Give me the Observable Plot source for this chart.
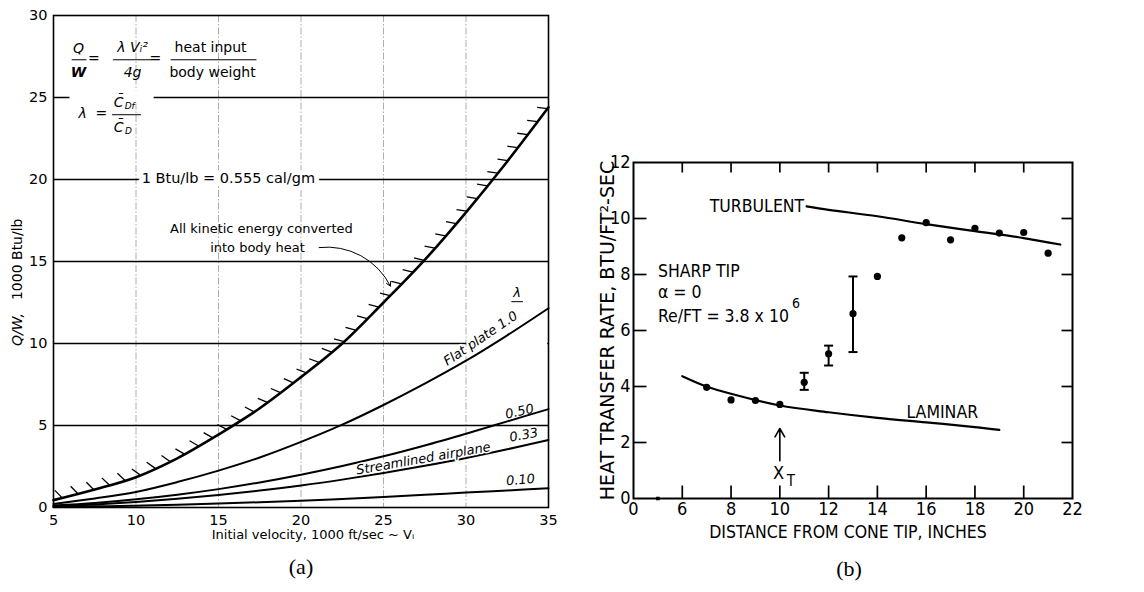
<!DOCTYPE html>
<html><head><meta charset="utf-8">
<script src="https://cdn.jsdelivr.net/npm/d3@7"></script>
<script src="https://cdn.jsdelivr.net/npm/@observablehq/plot@0.6"></script>
<style>
html,body{margin:0;padding:0;background:#fff;}
#wrap{position:relative;width:1144px;height:592px;overflow:hidden;background:#fff;}
#a{position:absolute;left:0;top:0;}
#b{position:absolute;left:560px;top:0;}
</style></head><body><div id="wrap"><div id="a"></div><div id="b"></div></div>
<script>
// ---------- Panel (a) data ----------
const velocity      = [5, 7.5, 10, 12.5, 15, 17.5, 20, 22.5, 25, 27.5, 30, 32.5, 35];
const kineticLimit  = [0.45, 1.1, 1.85, 3.0, 4.45, 6.05, 7.95, 10.0, 12.5, 15.1, 18.0, 21.1, 24.4];
const flatPlate     = [0.22, 0.55, 0.95, 1.55, 2.25, 3.05, 4.0, 5.05, 6.25, 7.55, 8.95, 10.5, 12.15];
const lambda050     = [0.12, 0.28, 0.5, 0.78, 1.12, 1.53, 2.0, 2.53, 3.12, 3.78, 4.5, 5.25, 6.0];
const lambda033     = [0.08, 0.19, 0.34, 0.53, 0.76, 1.03, 1.34, 1.7, 2.1, 2.54, 3.02, 3.55, 4.12];
const lambda010     = [0.03, 0.07, 0.11, 0.17, 0.24, 0.32, 0.41, 0.52, 0.64, 0.77, 0.91, 1.04, 1.17];
const velocityTicks = [5, 10, 15, 20, 25, 30, 35];
const qwTicks       = [0, 5, 10, 15, 20, 25, 30];
const qwGrid        = [5, 10, 15, 20, 25];
const velocityGrid  = [10, 15, 20, 25, 30];

// ---------- Panel (b) data ----------
const distance   = [7, 8, 9, 10, 11, 12, 13, 14, 15, 16, 17, 18, 19, 20, 21];
const heatRate   = [3.97, 3.52, 3.5, 3.36, 4.15, 5.17, 6.6, 7.93, 9.31, 9.85, 9.24, 9.65, 9.48, 9.5, 8.76];
const errDistance = [11, 12, 13];
const errLow      = [3.88, 4.75, 5.23];
const errHigh     = [4.49, 5.46, 7.93];
const turbX = [11.1, 12, 14, 16, 18, 20, 21.5];
const turbY = [10.43, 10.31, 10.08, 9.8, 9.55, 9.3, 9.07];
const lamX  = [6, 7, 8, 10, 12, 14, 16, 18, 19];
const lamY  = [4.37, 4.0, 3.74, 3.32, 3.08, 2.88, 2.72, 2.55, 2.45];
const distTicks = [4, 6, 8, 10, 12, 14, 16, 18, 20, 22];
const distMinor = [6, 8, 10, 12, 14, 16, 18, 20];
const rateTicks = [0, 2, 4, 6, 8, 10, 12];
const rateMinor = [2, 4, 6, 8, 10];

const SANS = "'DejaVu Sans', sans-serif";
const COND = "'DejaVu Sans Condensed', 'DejaVu Sans', sans-serif";
const SERIF = "'Liberation Serif', 'DejaVu Serif', serif";

// ---------- Panel (a) ----------
const A = {w: 560, h: 592, ml: 53, mr: 12, mt: 15, mb: 85};
const seriesA = [
  ["kinetic", kineticLimit], ["1.0", flatPlate], ["0.50", lambda050], ["0.33", lambda033], ["0.10", lambda010]
];
const rowsA = seriesA.flatMap(([k, arr]) => velocity.map((v, i) => ({v, q: arr[i], k})));

// hatch ticks along the kinetic-energy limit curve (derived from the curve itself)
const kx = (A.w - A.ml - A.mr) / 30, ky = (A.h - A.mt - A.mb) / 30;
const hatches = [];
{
  const pts = velocity.map((v, i) => [v * kx, -kineticLimit[i] * ky]);
  const spacing = 16.3, len = 10.5, th = 30 * Math.PI / 180;
  let carry = 9;
  for (let i = 0; i < pts.length - 1; i++) {
    const [x0, y0] = pts[i], [x1, y1] = pts[i + 1];
    const L = Math.hypot(x1 - x0, y1 - y0);
    const tx = (x1 - x0) / L, ty = (y1 - y0) / L;
    let s = carry;
    while (s <= L) {
      const px = x0 + tx * s, py = y0 + ty * s;
      const nx = ty, ny = -tx;
      const dx = nx * Math.cos(th) + ny * Math.sin(th);
      const dy = -nx * Math.sin(th) + ny * Math.cos(th);
      hatches.push({x1: px / kx, y1: -py / ky, x2: (px + dx * len) / kx, y2: -(py + dy * len) / ky});
      s += spacing;
    }
    carry = s - L;
  }
}

const halo = {stroke: "white", strokeWidth: 6, paintOrder: "stroke", fill: "black"};
const txt = (x, y, text, o = {}) => Plot.text([{x, y, text}], {x: "x", y: "y", text: "text", fontFamily: SANS, fontSize: 14, ...o});

const plotA = Plot.plot({
  width: A.w, height: A.h,
  marginLeft: A.ml, marginRight: A.mr, marginTop: A.mt, marginBottom: A.mb,
  x: {domain: [5, 35]},
  y: {domain: [0, 30]},
  style: {fontFamily: SANS, fontSize: "14px", color: "black", background: "white"},
  marks: [
    Plot.ruleX(velocityGrid, {stroke: "#999", strokeWidth: 0.8, strokeDasharray: "7,2,1.5,2"}),
    Plot.ruleY(qwGrid, {stroke: "black", strokeWidth: 1.3}),
    // masks where the original interrupts grid lines
    Plot.rect([{x1: 6.0, x2: 11.1, y1: 24.6, y2: 25.4}], {x1: "x1", x2: "x2", y1: "y1", y2: "y2", fill: "white"}),
    Plot.rect([{x1: 30.7, x2: 34.95, y1: 9.8, y2: 10.2}], {x1: "x1", x2: "x2", y1: "y1", y2: "y2", fill: "white"}),
    Plot.axisY(qwTicks, {tickSize: 0, tickPadding: 6, label: null, fontSize: 14.5}),
    Plot.axisX(velocityTicks, {tickSize: 0, tickPadding: 7, label: null, fontSize: 14.5}),
    // formula block
    txt(6.52, 27.99, "Q", {fontStyle: "italic"}),
    txt(6.52, 26.55, "W", {fontStyle: "italic", fontWeight: "bold"}),
    txt(7.45, 27.4, "="),
    txt(9.79, 28.05, "λ Vᵢ²", {fontStyle: "italic"}),
    txt(9.79, 26.55, "4g", {fontStyle: "italic"}),
    txt(11.18, 27.4, "="),
    txt(14.52, 28.05, "heat input"),
    txt(14.64, 26.55, "body weight"),
    Plot.link([{x1: 6.1, x2: 7.0, y: 27.3}, {x1: 8.6, x2: 10.95, y: 27.3}, {x1: 12.1, x2: 17.3, y: 27.3}, {x1: 8.55, x2: 10.3, y: 23.95}],
      {x1: "x1", x2: "x2", y1: "y", y2: "y", stroke: "black", strokeWidth: 1}),
    txt(6.76, 24.0, "λ", {fontStyle: "italic"}),
    txt(7.9, 24.0, "="),
    txt(8.95, 24.7, "C̄", {fontStyle: "italic"}),
    txt(9.62, 24.45, "Df", {fontStyle: "italic", fontSize: 9}),
    txt(8.95, 23.2, "C̄", {fontStyle: "italic"}),
    txt(9.55, 22.95, "D", {fontStyle: "italic", fontSize: 9}),
    txt(15.6, 20.05, "1 Btu/lb = 0.555 cal/gm", {...halo, strokeWidth: 10, fontSize: 14.5}),
    txt(17.6, 17.0, "All kinetic energy converted", {fontSize: 13}),
    txt(17.36, 15.85, "into body heat", {fontSize: 13}),
    Plot.arrow([{x1: 21.1, y1: 15.85, x2: 25.42, y2: 13.5}], {x1: "x1", y1: "y1", x2: "x2", y2: "y2", bend: 35, headLength: 7, strokeWidth: 1}),
    txt(30.88, 10.3, "Flat plate 1.0", {fontStyle: "italic", fontSize: 13, rotate: -34, ...halo, strokeWidth: 4}),
    txt(33.24, 5.85, "0.50", {fontStyle: "italic", fontSize: 13, rotate: -12, ...halo, strokeWidth: 5}),
    txt(33.5, 4.42, "0.33", {fontStyle: "italic", fontSize: 13, rotate: -10, ...halo, strokeWidth: 3}),
    txt(33.3, 1.68, "0.10", {fontStyle: "italic", fontSize: 13, rotate: -5, ...halo, strokeWidth: 3}),
    txt(33.1, 13.1, "λ", {fontStyle: "italic", fontSize: 13}),
    Plot.link([{x1: 32.75, x2: 33.45, y: 12.55}], {x1: "x1", x2: "x2", y1: "y", y2: "y", stroke: "black", strokeWidth: 1}),
    // curves
    Plot.line(rowsA, {x: "v", y: "q", z: "k", curve: "catmull-rom", stroke: "black",
      strokeWidth: d => d.k === "kinetic" ? 2.6 : 2}),
    Plot.link(hatches, {x1: "x1", y1: "y1", x2: "x2", y2: "y2", stroke: "black", strokeWidth: 1.3}),
    txt(27.42, 2.98, "Streamlined airplane", {fontStyle: "italic", fontSize: 13, rotate: -10, ...halo, strokeWidth: 3}),
    Plot.frame({stroke: "black", strokeWidth: 1.6}),
    // axis titles and caption
    Plot.text([" 1000 Btu/lb"], {frameAnchor: "left", dx: -36, dy: 0, rotate: -90, textAnchor: "middle", fontSize: 14, fontFamily: SANS, text: d => d}),
    Plot.text(["Q/W,"], {frameAnchor: "left", dx: -36, dy: 68, rotate: -90, textAnchor: "middle", fontSize: 14, fontStyle: "italic", fontFamily: SANS, text: d => d}),
    Plot.text(["Initial velocity, 1000 ft/sec ~ Vᵢ"], {frameAnchor: "bottom", dx: 12, dy: 31, fontSize: 13, fontFamily: SANS, text: d => d}),
    Plot.text(["(a)"], {frameAnchor: "bottom", dx: 0, dy: 66, fontSize: 22, fontFamily: SERIF, text: d => d})
  ]
});
document.getElementById("a").append(plotA);

// ---------- Panel (b) ----------
const B = {w: 584, h: 592, ml: 73, mr: 72, mt: 162, mb: 94};
const measured = distance.map((x, i) => ({x, y: heatRate[i]}));
const errs = errDistance.map((x, i) => ({x, lo: errLow[i], hi: errHigh[i]}));
const turbulent = turbX.map((x, i) => ({x, y: turbY[i]}));
const laminar = lamX.map((x, i) => ({x, y: lamY[i]}));
const capSymbol = {draw(ctx) { ctx.moveTo(-4.5, 0); ctx.lineTo(4.5, 0); }};
// inward frame ticks as custom dot symbols anchored on the frame edges
const tickUp    = {draw(ctx) { ctx.moveTo(0, 0); ctx.lineTo(0, -13); }};
const tickDown  = {draw(ctx) { ctx.moveTo(0, 0); ctx.lineTo(0, 10); }};
const tickRight = {draw(ctx) { ctx.moveTo(0, 0); ctx.lineTo(13, 0); }};
const tickLeft  = {draw(ctx) { ctx.moveTo(0, 0); ctx.lineTo(-11, 0); }};
const bottomTicks = distMinor.map(x => ({x, y: 0}));
const topTicks    = distMinor.map(x => ({x, y: 12}));
const leftTicks   = rateMinor.map(y => ({x: 4, y}));
const rightTicks  = rateMinor.map(y => ({x: 22, y}));
const tickDot = (data, symbol) => Plot.dot(data, {x: "x", y: "y", symbol, fill: "none", stroke: "black", strokeWidth: 1.7});
const tb = (x, y, text, o = {}) => Plot.text([{x, y, text}], {x: "x", y: "y", text: "text", fontFamily: COND, fontSize: 17.5, ...o});

const plotB = Plot.plot({
  width: B.w, height: B.h,
  marginLeft: B.ml, marginRight: B.mr, marginTop: B.mt, marginBottom: B.mb,
  x: {domain: [4, 22]},
  y: {domain: [0, 12]},
  style: {fontFamily: COND, fontSize: "17px", color: "black", background: "white"},
  marks: [
    Plot.frame({stroke: "black", strokeWidth: 2}),
    tickDot(bottomTicks, tickUp),
    tickDot(topTicks, tickDown),
    tickDot(leftTicks, tickRight),
    tickDot(rightTicks, tickLeft),
    Plot.line(turbulent, {x: "x", y: "y", curve: "catmull-rom", stroke: "black", strokeWidth: 2.2}),
    Plot.line(laminar, {x: "x", y: "y", curve: "catmull-rom", stroke: "black", strokeWidth: 2.2}),
    Plot.ruleX(errs, {x: "x", y1: "lo", y2: "hi", stroke: "black", strokeWidth: 2}),
    Plot.dot(errs, {x: "x", y: "lo", symbol: capSymbol, stroke: "black", strokeWidth: 2}),
    Plot.dot(errs, {x: "x", y: "hi", symbol: capSymbol, stroke: "black", strokeWidth: 2}),
    Plot.dot(measured, {x: "x", y: "y", r: 3.6, fill: "black", stroke: null}),
    Plot.dot([{x: 5, y: 0}], {x: "x", y: "y", r: 2, symbol: "square", fill: "black"}),
    tb(11.0, 10.45, "TURBULENT", {textAnchor: "end"}),
    tb(16.66, 3.07, "LAMINAR"),
    tb(5.0, 8.1, "SHARP TIP", {textAnchor: "start"}),
    tb(5.0, 7.35, "α = 0", {textAnchor: "start"}),
    tb(5.0, 6.5, "Re/FT = 3.8 x 10", {textAnchor: "start"}),
    tb(10.5, 6.98, "6", {textAnchor: "start", fontSize: 14}),
    Plot.arrow([{x: 10, y1: 1.35, y2: 2.5}], {x1: "x", x2: "x", y1: "y1", y2: "y2", headLength: 9, strokeWidth: 1.6}),
    tb(9.95, 0.9, "X", {fontSize: 18}),
    tb(10.45, 0.62, "T", {fontSize: 15, fill: "black"}),
    Plot.text(["HEAT TRANSFER RATE, BTU/FT²-SEC"], {frameAnchor: "left", dx: -26, rotate: -90, textAnchor: "middle", fontSize: 19, fontFamily: SANS, text: d => d}),
    Plot.text(["DISTANCE FROM CONE TIP, INCHES"], {frameAnchor: "bottom", dx: -5, dy: 39, fontSize: 17.5, fontFamily: COND, text: d => d}),
    Plot.text(["(b)"], {frameAnchor: "bottom", dx: -4, dy: 77, fontSize: 22, fontFamily: SERIF, text: d => d}),
    Plot.axisX(distTicks, {anchor: "bottom", tickSize: 0, tickPadding: 4, label: null, fontSize: 18, tickFormat: d => d === 4 ? "0" : String(d)}),
    Plot.axisY(rateTicks, {anchor: "left", tickSize: 0, tickPadding: 3, label: null, fontSize: 18})
  ]
});
document.getElementById("b").append(plotB);
</script></body></html>
